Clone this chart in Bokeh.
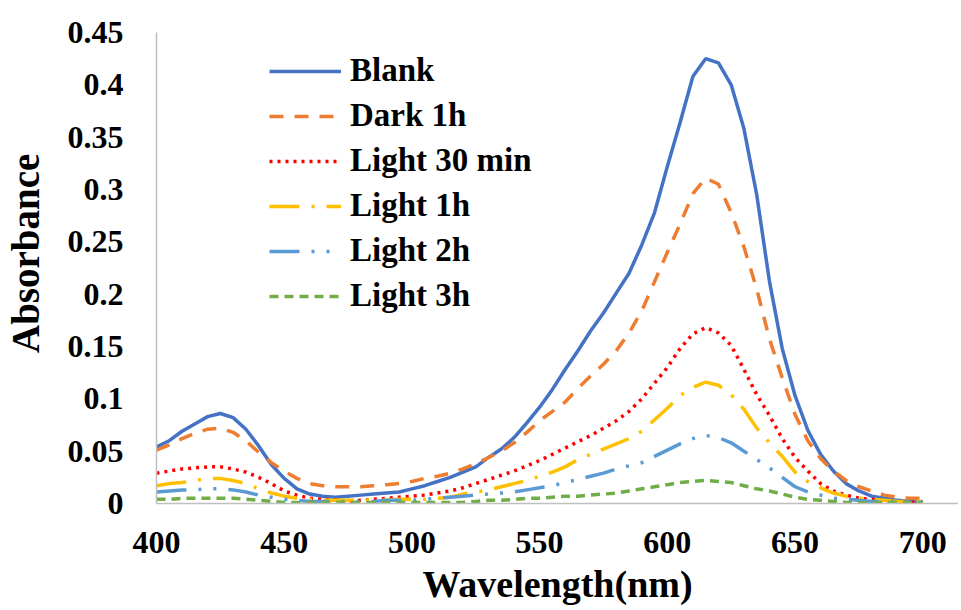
from bokeh.plotting import figure
from bokeh.embed import file_html
from bokeh.resources import INLINE
from bokeh.models import Range1d, FixedTicker

wavelength = [400, 405, 410, 415, 420, 425, 430, 435, 440, 445, 450, 455, 460, 465, 470, 475,
              480, 485, 490, 495, 500, 505, 510, 515, 520, 525, 530, 535, 540, 545, 550, 555,
              560, 565, 570, 575, 580, 585, 590, 595, 600, 605, 610, 615, 620, 625, 630, 635,
              640, 645, 650, 655, 660, 665, 670, 675, 680, 685, 690, 695, 700]

blank = [0.054, 0.060, 0.069, 0.076, 0.083, 0.086, 0.082, 0.071, 0.055, 0.037, 0.024, 0.014,
         0.009, 0.007, 0.006, 0.007, 0.008, 0.009, 0.010, 0.011, 0.014, 0.017, 0.021, 0.025,
         0.030, 0.035, 0.044, 0.052, 0.063, 0.077, 0.092, 0.109, 0.128, 0.146, 0.165, 0.182,
         0.201, 0.220, 0.247, 0.278, 0.322, 0.364, 0.408, 0.425, 0.421, 0.400, 0.358, 0.295,
         0.212, 0.148, 0.103, 0.070, 0.047, 0.031, 0.019, 0.012, 0.007, 0.005, 0.003, 0.002, 0.001]

dark_1h = [0.051, 0.056, 0.062, 0.067, 0.071, 0.072, 0.068, 0.060, 0.049, 0.039, 0.031, 0.024,
           0.019, 0.017, 0.016, 0.016, 0.016, 0.017, 0.018, 0.019, 0.021, 0.024, 0.026, 0.029,
           0.033, 0.038, 0.044, 0.050, 0.058, 0.068, 0.079, 0.088, 0.097, 0.110, 0.122, 0.133,
           0.146, 0.163, 0.184, 0.212, 0.240, 0.267, 0.296, 0.311, 0.305, 0.278, 0.245, 0.205,
           0.157, 0.120, 0.085, 0.060, 0.043, 0.031, 0.022, 0.016, 0.012, 0.008, 0.006, 0.005, 0.005]

light_30min = [0.029, 0.031, 0.033, 0.034, 0.035, 0.035, 0.033, 0.030, 0.025, 0.019, 0.012, 0.008,
               0.005, 0.004, 0.003, 0.002, 0.003, 0.004, 0.005, 0.006, 0.007, 0.008, 0.010, 0.012,
               0.015, 0.019, 0.023, 0.027, 0.031, 0.036, 0.041, 0.047, 0.053, 0.059, 0.065, 0.072,
               0.079, 0.088, 0.100, 0.115, 0.130, 0.148, 0.162, 0.168, 0.163, 0.151, 0.128, 0.104,
               0.084, 0.062, 0.044, 0.031, 0.019, 0.012, 0.008, 0.005, 0.004, 0.002, 0.001, 0.001, 0.001]

light_1h = [0.017, 0.019, 0.020, 0.022, 0.024, 0.024, 0.022, 0.019, 0.014, 0.010, 0.007, 0.005,
            0.004, 0.003, 0.003, 0.003, 0.003, 0.003, 0.003, 0.004, 0.004, 0.004, 0.005, 0.006,
            0.009, 0.011, 0.013, 0.016, 0.019, 0.022, 0.026, 0.030, 0.035, 0.042, 0.047, 0.052,
            0.057, 0.062, 0.069, 0.080, 0.091, 0.103, 0.111, 0.116, 0.113, 0.104, 0.090, 0.072,
            0.058, 0.045, 0.030, 0.021, 0.015, 0.010, 0.007, 0.005, 0.004, 0.003, 0.002, 0.002, 0.002]

light_2h = [0.011, 0.012, 0.013, 0.013, 0.014, 0.014, 0.013, 0.011, 0.008, 0.006, 0.004, 0.003,
            0.002, 0.002, 0.002, 0.002, 0.002, 0.002, 0.003, 0.003, 0.003, 0.004, 0.005, 0.006,
            0.007, 0.008, 0.009, 0.010, 0.011, 0.013, 0.015, 0.017, 0.020, 0.023, 0.026, 0.029,
            0.033, 0.036, 0.039, 0.045, 0.051, 0.057, 0.062, 0.065, 0.063, 0.058, 0.050, 0.042,
            0.034, 0.025, 0.016, 0.011, 0.008, 0.005, 0.004, 0.003, 0.002, 0.002, 0.002, 0.002, 0.002]

light_3h = [0.004, 0.004, 0.005, 0.005, 0.005, 0.005, 0.005, 0.004, 0.003, 0.002, 0.001, 0.001,
            0.001, 0.001, 0.001, 0.001, 0.001, 0.001, 0.001, 0.001, 0.001, 0.001, 0.001, 0.001,
            0.001, 0.002, 0.003, 0.003, 0.004, 0.005, 0.005, 0.006, 0.007, 0.007, 0.008, 0.009,
            0.010, 0.012, 0.014, 0.016, 0.018, 0.020, 0.021, 0.022, 0.021, 0.020, 0.017, 0.014,
            0.012, 0.009, 0.006, 0.004, 0.003, 0.002, 0.001, 0.001, 0.001, 0.001, 0.001, 0.001, 0.001]

series_names = ["Blank", "Dark 1h", "Light 30 min", "Light 1h", "Light 2h", "Light 3h"]
x_ticks = [400, 450, 500, 550, 600, 650, 700]
y_ticks = [0, 0.05, 0.1, 0.15, 0.2, 0.25, 0.3, 0.35, 0.4, 0.45]
y_tick_labels = {0: "0", 0.05: "0.05", 0.1: "0.1", 0.15: "0.15", 0.2: "0.2", 0.25: "0.25",
                 0.3: "0.3", 0.35: "0.35", 0.4: "0.4", 0.45: "0.45"}

FONT = "Liberation Serif"

p = figure(width=958, height=610, output_backend="svg", toolbar_location=None,
           x_range=Range1d(400, 714), y_range=Range1d(0, 0.45),
           min_border_left=155, min_border_top=32, min_border_bottom=107, min_border_right=0)
p.outline_line_color = None
p.xgrid.visible = False
p.ygrid.visible = False

styles = [
    dict(color="#4472C4", line_width=3.5, line_dash="solid"),
    dict(color="#ED7D31", line_width=3.5, line_dash="14 11"),
    dict(color="#FF0000", line_width=3.5, line_dash="3 5"),
    dict(color="#FFC000", line_width=3.5, line_dash="30 12 3 12"),
    dict(color="#5B9BD5", line_width=3.5, line_dash="30 12 3 12 3 12"),
    dict(color="#70AD47", line_width=3.5, line_dash="9 6"),
]
all_series = [blank, dark_1h, light_30min, light_1h, light_2h, light_3h]

for name, ys, st in zip(series_names, all_series, styles):
    p.line(wavelength, ys, line_color=st["color"], line_width=st["line_width"],
           line_dash=st["line_dash"], legend_label=name)

for ax in (p.xaxis, p.yaxis):
    ax.axis_line_color = "#BFBFBF"
    ax.axis_line_width = 1.5
    ax.major_tick_line_color = None
    ax.minor_tick_line_color = None
    ax.major_label_text_font = FONT
    ax.major_label_text_font_style = "bold"
    ax.major_label_text_font_size = "32px"
    ax.major_label_text_color = "black"
    ax.axis_label_text_font = FONT
    ax.axis_label_text_font_style = "bold"
    ax.axis_label_text_color = "black"

p.xaxis.axis_label_text_font_size = "38px"
p.yaxis.axis_label_text_font_size = "39px"
p.xaxis.ticker = FixedTicker(ticks=x_ticks)
p.yaxis.ticker = FixedTicker(ticks=y_ticks)
p.yaxis.major_label_overrides = y_tick_labels
p.xaxis.axis_label = "Wavelength(nm)"
p.yaxis.axis_label = "\u00a0\u00a0\u00a0Absorbance"
p.xaxis.major_label_standoff = 22
p.xaxis.axis_label_standoff = 7
p.yaxis.major_label_standoff = 27
p.yaxis.axis_label_standoff = 18

lg = p.legend[0]
lg.location = (113, 189)
lg.border_line_color = None
lg.background_fill_alpha = 0
lg.padding = 0
lg.margin = 0
lg.spacing = 8
lg.glyph_width = 72
lg.glyph_height = 36
lg.label_height = 36
lg.label_standoff = 9
lg.label_text_font = FONT
lg.label_text_font_style = "bold"
lg.label_text_font_size = "33px"
lg.label_text_color = "black"

open("out.html", "w").write(file_html(p, INLINE))
